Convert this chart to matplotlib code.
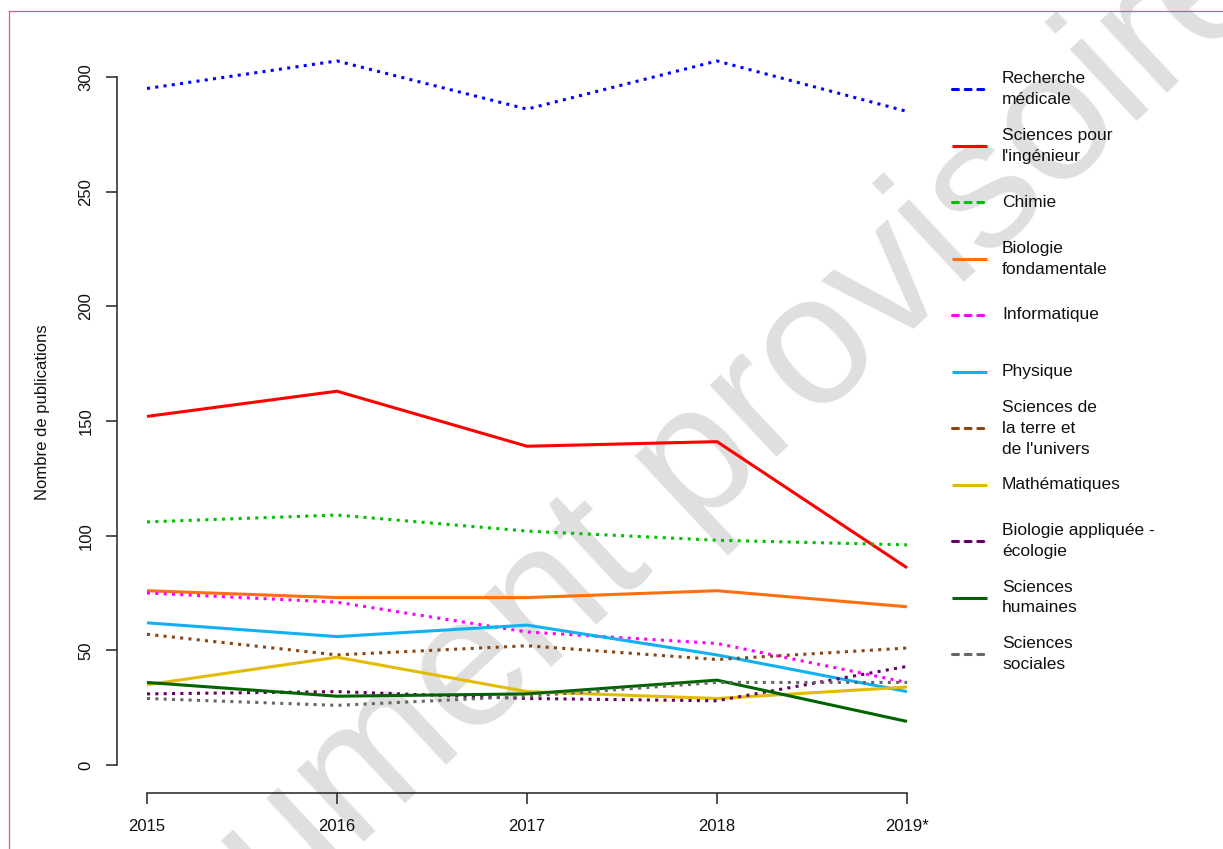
import matplotlib
matplotlib.use("Agg")
import matplotlib.pyplot as plt
from matplotlib.lines import Line2D

plt.rcParams["font.family"] = ["Liberation Sans", "DejaVu Sans"]
plt.rcParams["lines.scale_dashes"] = False

# ---- data -------------------------------------------------------------
years = [2015, 2016, 2017, 2018, 2019]
year_labels = ["2015", "2016", "2017", "2018", "2019*"]

recherche_medicale = [295, 307, 286, 307, 285]
sciences_ingenieur = [152, 163, 139, 141, 86]
chimie = [106, 109, 102, 98, 96]
biologie_fondamentale = [76, 73, 73, 76, 69]
informatique = [75, 71, 58, 53, 36]
physique = [62, 56, 61, 48, 32]
terre_univers = [57, 48, 52, 46, 51]
mathematiques = [35, 47, 32, 29, 34]
biologie_appliquee = [31, 32, 29, 28, 43]
sciences_humaines = [36, 30, 31, 37, 19]
sciences_sociales = [29, 26, 30, 36, 36]

labels = [
    "Recherche\nmédicale",
    "Sciences pour\nl'ingénieur",
    "Chimie",
    "Biologie\nfondamentale",
    "Informatique",
    "Physique",
    "Sciences de\nla terre et\nde l'univers",
    "Mathématiques",
    "Biologie appliquée -\nécologie",
    "Sciences\nhumaines",
    "Sciences\nsociales",
]
series = [recherche_medicale, sciences_ingenieur, chimie, biologie_fondamentale,
          informatique, physique, terre_univers, mathematiques,
          biologie_appliquee, sciences_humaines, sciences_sociales]
colors = ["#0000FF", "#FF0000", "#00C000", "#FF6E0F", "#FF00FF", "#10B0F5",
          "#8B4513", "#E2BC00", "#640064", "#006400", "#666666"]
dotted = [True, False, True, False, True, False, True, False, True, False, True]

y_ticks = [0, 50, 100, 150, 200, 250, 300]

# ---- figure -----------------------------------------------------------
W, H = 1223, 849
fig = plt.figure(figsize=(W / 100, H / 100), dpi=100)

# full-figure overlay in pixel units (frame, watermark, legend)
over = fig.add_axes([0, 0, 1, 1], zorder=0)
over.set_xlim(0, W)
over.set_ylim(H, 0)
over.axis("off")

# watermark
over.text(39, 1144, "Document provisoire", fontsize=133, color="#DFDFDF",
          rotation=43, rotation_mode="anchor", ha="left", va="baseline",
          zorder=0, clip_on=False)

# outer frame
frame_col = "#EA4C9E"
over.plot([9, W], [11, 11], color=frame_col, lw=0.9, zorder=1)
over.plot([9, 9], [11, H], color=frame_col, lw=0.9, zorder=1)

# main plot
ax = fig.add_axes([117 / W, (H - 793) / H, 820 / W, 760 / H], zorder=1)
ax.patch.set_visible(False)

dot_style = (0, (2.2, 3.8))
for vals, col, dot in zip(series, colors, dotted):
    ax.plot(years, vals, color=col, lw=2.2,
            linestyle=dot_style if dot else "-",
            dash_capstyle="butt", solid_capstyle="butt")

ax.set_xlim(2015 - 30 / 190, 2019 + 30 / 190)
ax.set_ylim(-28 / 2.2933, 732 / 2.2933)

for s in ["top", "right"]:
    ax.spines[s].set_visible(False)
for s in ["left", "bottom"]:
    ax.spines[s].set_color("#222222")
    ax.spines[s].set_linewidth(1.1)
ax.spines["left"].set_bounds(0, 300)
ax.spines["bottom"].set_bounds(2015, 2019)

ax.set_xticks(years)
ax.set_xticklabels(year_labels)
ax.set_yticks(y_ticks)
ax.set_yticklabels([str(v) for v in y_ticks], rotation=90, va="center")
ax.tick_params(direction="out", length=7.9, width=1.1, color="#222222",
               labelsize=12, labelcolor="#111111")
ax.tick_params(axis="x", pad=11)
ax.tick_params(axis="y", pad=9)

over.text(43, 412, "Nombre de publications", rotation=90, fontsize=12,
          ha="center", va="center", color="#111111")

# legend
leg_y0, leg_dy = 89, 56.5
for i, (lab, col, dot) in enumerate(zip(labels, colors, dotted)):
    y = leg_y0 + i * leg_dy
    over.add_line(Line2D([952, 987], [y, y], color=col, lw=2.2,
                         linestyle=(0, (4.3, 4.8)) if dot else "-",
                         dash_capstyle="round", solid_capstyle="butt",
                         zorder=3))
    over.text(1002, y, lab, fontsize=12.5, ha="left", va="center",
              linespacing=1.5, color="#111111", zorder=3)

fig.savefig("out.png", dpi=100)
